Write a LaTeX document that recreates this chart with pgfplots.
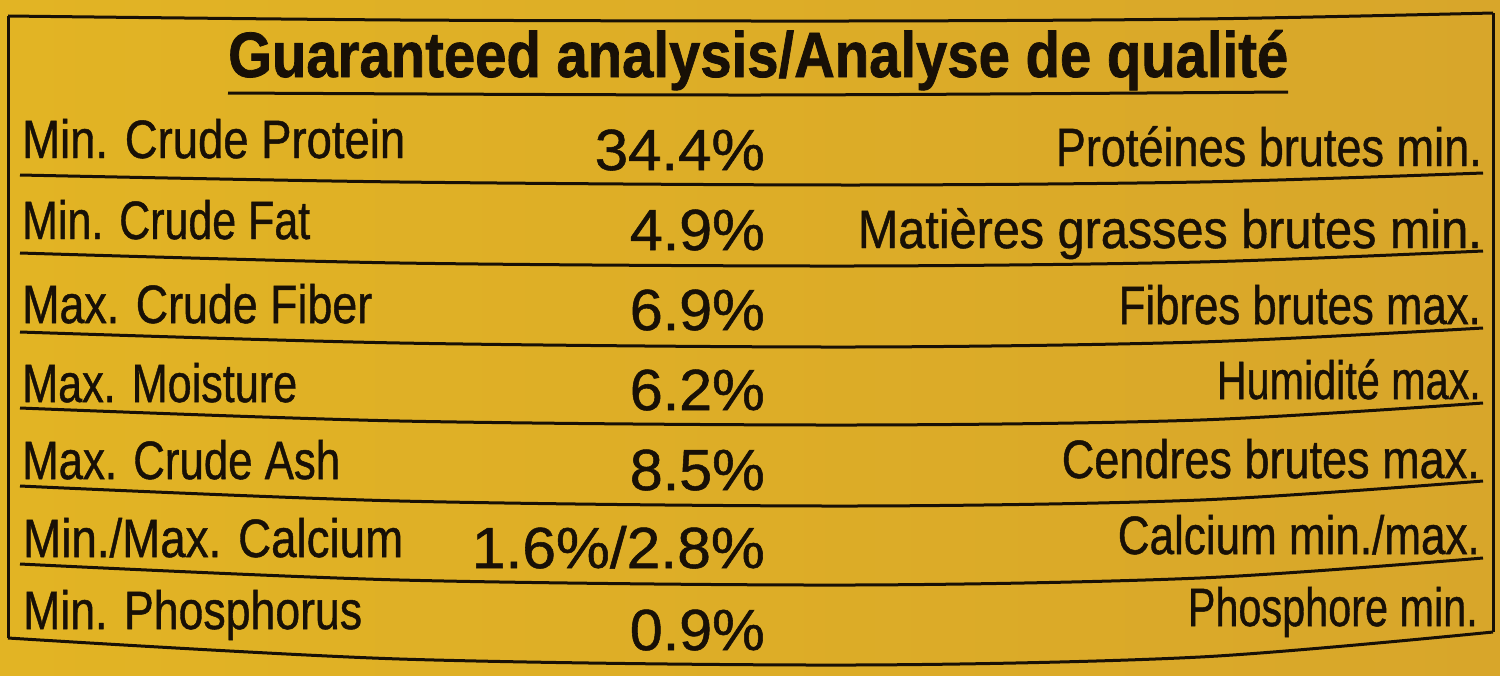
\documentclass[border=0pt]{standalone}
\usepackage{pgfplots}
\pgfplotsset{compat=1.18}
\usepackage{graphicx}
\usepackage{fontspec}
\setmainfont{Liberation Sans}
\newfontfamily\printface[FakeBold=0.9]{Liberation Sans}
\newfontfamily\titleface[FakeBold=1.2]{Liberation Sans Bold}

\definecolor{bgLeft}{RGB}{226,180,36}
\definecolor{bgMid}{RGB}{212,161,30}
\definecolor{bgRight}{RGB}{216,166,42}
\definecolor{ink}{RGB}{24,16,6}

% text squeezed to the width it has on the label: {width}{size}{text}
\newcommand{\fit}[3]{\resizebox{#1bp}{\height}{\fontsize{#2bp}{#2bp}\printface #3}}

\begin{document}
\begin{tikzpicture}
\begin{axis}[
	scale only axis,
	width=1500bp,
	height=675bp,
	xmin=0, xmax=1500,
	ymin=0, ymax=675,
	y dir=reverse,
	hide axis,
	clip=false,
	rule/.style={ink, line width=3bp, smooth, mark=none},
]
\shade[left color=bgLeft, middle color=bgMid, right color=bgRight]
	(rel axis cs:0,0) rectangle (rel axis cs:1,1);

% frame of the box
\addplot[rule] coordinates {(8,16) (400,20) (850,21) (1200,19) (1493,13)};
\addplot[rule, smooth=false] coordinates {(8,16) (8,638)};
\addplot[rule, smooth=false] coordinates {(1493,13) (1493,632)};
% title underline
\addplot[rule] coordinates {(228,93) (760,95) (1288,92)};
% row rules
\addplot[rule] coordinates {(20,175) (400,182) (850,185) (1200,182) (1483,173)};
\addplot[rule] coordinates {(20,253) (400,263) (850,266) (1200,262) (1483,251)};
\addplot[rule] coordinates {(20,332) (400,343) (850,347) (1200,342) (1483,328)};
\addplot[rule] coordinates {(20,408) (400,421) (850,425) (1200,420) (1483,403)};
\addplot[rule] coordinates {(20,486) (400,501) (850,506) (1200,500) (1483,481)};
\addplot[rule] coordinates {(20,564) (400,580) (850,585) (1200,578) (1483,558)};
\addplot[rule] coordinates {(8,638) (400,659) (850,665) (1200,657) (1493,632)};

\begin{scope}[every node/.style={inner sep=0pt, text=ink}]
% title
\node[anchor=base west] at (axis cs:228,77) {\resizebox{1060bp}{\height}{\fontsize{64bp}{64bp}\titleface Guaranteed analysis/Analyse de qualité}};

% English names
\node[anchor=base west] at (axis cs:22,158) {\fit{383}{54}{Min. Crude Protein}};
\node[anchor=base west] at (axis cs:22,239) {\fit{288}{54}{Min. Crude Fat}};
\node[anchor=base west] at (axis cs:22,323) {\fit{350}{54}{Max. Crude Fiber}};
\node[anchor=base west] at (axis cs:22,402) {\fit{275}{54}{Max. Moisture}};
\node[anchor=base west] at (axis cs:22,479) {\fit{318}{54}{Max. Crude Ash}};
\node[anchor=base west] at (axis cs:23,557) {\fit{380}{54}{Min./Max. Calcium}};
\node[anchor=base west] at (axis cs:23,629) {\fit{339}{54}{Min. Phosphorus}};

% values
\node[anchor=base east] at (axis cs:765,170) {\fit{170}{58}{34.4\%}};
\node[anchor=base east] at (axis cs:765,250) {\fit{135}{58}{4.9\%}};
\node[anchor=base east] at (axis cs:765,330) {\fit{135}{58}{6.9\%}};
\node[anchor=base east] at (axis cs:765,410) {\fit{135}{58}{6.2\%}};
\node[anchor=base east] at (axis cs:765,490) {\fit{135}{58}{8.5\%}};
\node[anchor=base east] at (axis cs:765,568) {\fit{293}{58}{1.6\%/2.8\%}};
\node[anchor=base east] at (axis cs:765,650) {\fit{135}{58}{0.9\%}};

% French names
\node[anchor=base east] at (axis cs:1482,166) {\fit{426}{54}{Protéines brutes min.}};
\node[anchor=base east] at (axis cs:1482,248) {\fit{624}{54}{Matières grasses brutes min.}};
\node[anchor=base east] at (axis cs:1481,324) {\fit{362}{54}{Fibres brutes max.}};
\node[anchor=base east] at (axis cs:1481,399) {\fit{264}{54}{Humidité max.}};
\node[anchor=base east] at (axis cs:1480,478) {\fit{418}{54}{Cendres brutes max.}};
\node[anchor=base east] at (axis cs:1480,554) {\fit{362}{54}{Calcium min./max.}};
\node[anchor=base east] at (axis cs:1478,626) {\fit{290}{54}{Phosphore min.}};
\end{scope}
\end{axis}
\end{tikzpicture}
\end{document}
